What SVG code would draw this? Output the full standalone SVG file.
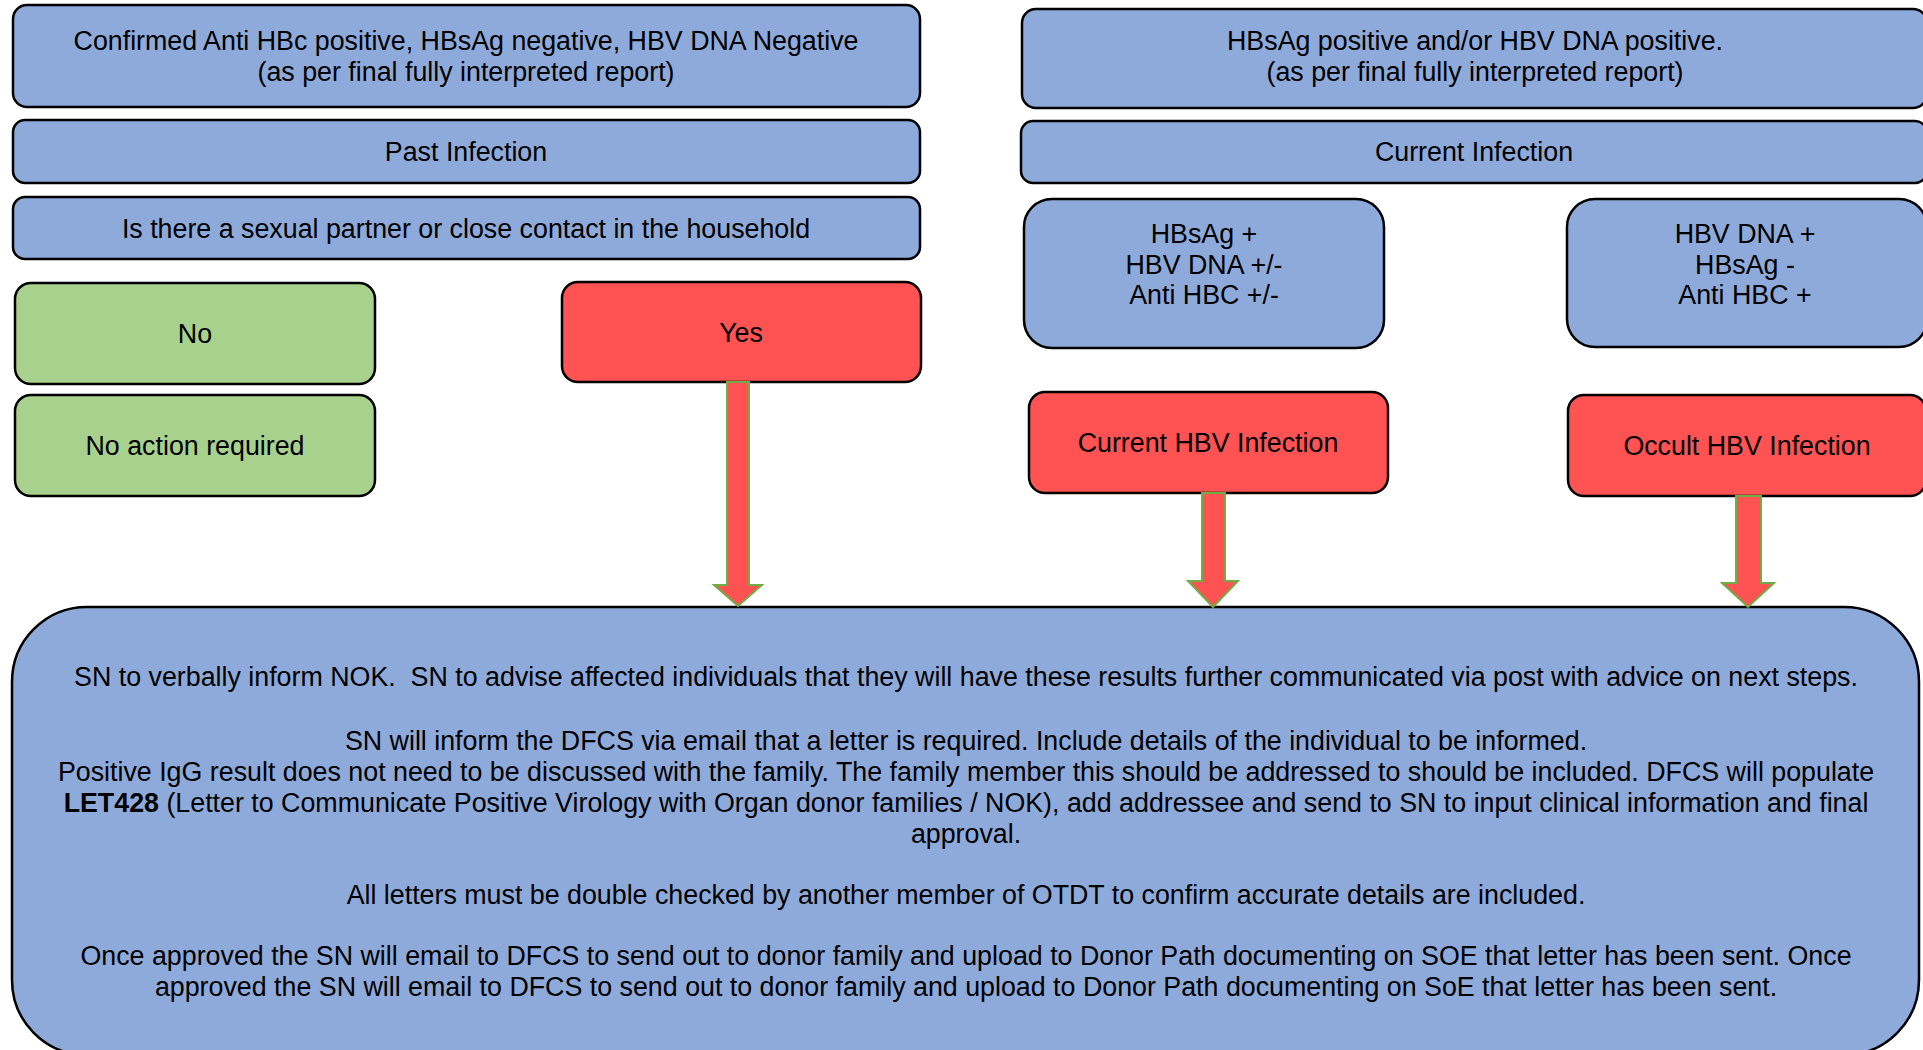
<svg xmlns="http://www.w3.org/2000/svg" width="1923" height="1050" viewBox="0 0 1923 1050">
<style>
.b{fill:#8EAADB;stroke:#000;stroke-width:2.5}
.g{fill:#A9D18E;stroke:#000;stroke-width:2.5}
.r{fill:#FF5252;stroke:#000;stroke-width:2.5}
text{font-family:"Liberation Sans",Arial,sans-serif;font-size:26.8px;fill:#000;text-anchor:middle}
.pre{white-space:pre}
.arr{fill:#FF5252;stroke:#70AD47;stroke-width:2}
</style>
<rect width="1923" height="1050" fill="#fff"/>
<g id="n-confirmed"><rect class="b" x="13" y="5" width="907" height="102" rx="14"/>
<text x="466" y="50">Confirmed Anti HBc positive, HBsAg negative, HBV DNA Negative</text>
<text x="466" y="81">(as per final fully interpreted report)</text></g>
<g id="n-past"><rect class="b" x="13" y="120" width="907" height="63" rx="12"/>
<text x="466" y="161">Past Infection</text></g>
<g id="n-question"><rect class="b" x="13" y="197" width="907" height="62" rx="12"/>
<text x="466" y="238">Is there a sexual partner or close contact in the household</text></g>
<g id="n-no"><rect class="g" x="15" y="283" width="360" height="101" rx="16"/>
<text x="195" y="343">No</text></g>
<g id="n-noaction"><rect class="g" x="15" y="395" width="360" height="101" rx="16"/>
<text x="195" y="455">No action required</text></g>
<g id="n-yes"><rect class="r" x="562" y="282" width="359" height="100" rx="16"/>
<text x="741" y="342">Yes</text></g>
<g id="n-hbsagpos"><rect class="b" x="1022" y="9" width="905" height="99" rx="14"/>
<text x="1475" y="50">HBsAg positive and/or HBV DNA positive.</text>
<text x="1475" y="81">(as per final fully interpreted report)</text></g>
<g id="n-current"><rect class="b" x="1021" y="121" width="906" height="62" rx="12"/>
<text x="1474" y="161">Current Infection</text></g>
<g id="n-hbsagplus"><rect class="b" x="1024" y="199" width="360" height="149" rx="28"/>
<text x="1204" y="243">HBsAg +</text>
<text x="1204" y="274">HBV DNA +/-</text>
<text x="1204" y="304">Anti HBC +/-</text></g>
<g id="n-hbvdnaplus"><rect class="b" x="1567" y="199" width="360" height="148" rx="28"/>
<text x="1745" y="243">HBV DNA +</text>
<text x="1745" y="274">HBsAg -</text>
<text x="1745" y="304">Anti HBC +</text></g>
<g id="n-currenthbv"><rect class="r" x="1029" y="392" width="359" height="101" rx="16"/>
<text x="1208" y="452">Current HBV Infection</text></g>
<g id="n-occult"><rect class="r" x="1568" y="395" width="358" height="101" rx="16"/>
<text x="1747" y="455">Occult HBV Infection</text></g>
<g id="n-action"><rect class="b" x="12" y="607" width="1907" height="448" rx="75"/>
<text class="pre" x="966" y="686">SN to verbally inform NOK.  SN to advise affected individuals that they will have these results further communicated via post with advice on next steps.</text>
<text x="966" y="750">SN will inform the DFCS via email that a letter is required. Include details of the individual to be informed.</text>
<text x="966" y="781">Positive IgG result does not need to be discussed with the family. The family member this should be addressed to should be included. DFCS will populate</text>
<text x="966" y="812"><tspan font-weight="bold">LET428</tspan> (Letter to Communicate Positive Virology with Organ donor families / NOK), add addressee and send to SN to input clinical information and final</text>
<text x="966" y="843">approval.</text>
<text x="966" y="904">All letters must be double checked by another member of OTDT to confirm accurate details are included.</text>
<text x="966" y="965">Once approved the SN will email to DFCS to send out to donor family and upload to Donor Path documenting on SOE that letter has been sent. Once</text>
<text x="966" y="996">approved the SN will email to DFCS to send out to donor family and upload to Donor Path documenting on SoE that letter has been sent.</text></g>
<g id="connectors">
<path class="arr" d="M727,382 H749 V585 H762 L738,606 L714,585 H727 Z"/>
<path class="arr" d="M1202,493 H1225 V581 H1238 L1213,607 L1188,581 H1202 Z"/>
<path class="arr" d="M1736,496 H1761 V583 H1774 L1748,607 L1722,583 H1736 Z"/>
</g>
</svg>
